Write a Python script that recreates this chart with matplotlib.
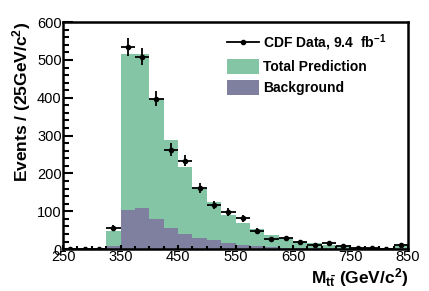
import numpy as np
import matplotlib
matplotlib.use("Agg")
import matplotlib.pyplot as plt
from matplotlib.patches import Patch
from matplotlib.lines import Line2D
from matplotlib.ticker import MultipleLocator, FixedLocator

plt.rcParams['font.family'] = ['Liberation Sans', 'DejaVu Sans']
plt.rcParams['mathtext.fontset'] = 'custom'
plt.rcParams['mathtext.rm'] = 'Liberation Sans:bold'
plt.rcParams['mathtext.it'] = 'Liberation Sans:bold'
plt.rcParams['mathtext.bf'] = 'Liberation Sans:bold'

bin_edges = list(range(250, 851, 25))
total_pred = [0, 0, 0, 49, 517, 515, 398, 289, 216, 161, 124, 91, 69, 53,
              38, 29, 20, 16, 11, 9, 6, 4, 3, 13]
background = [0, 0, 0, 9, 104, 108, 79, 56, 41, 30, 23, 16, 11, 9,
              6, 4, 3, 2, 2, 1, 1, 1, 1, 2]
data_counts = [0, 0, 0, 57, 534, 508, 397, 263, 234, 161, 116, 98, 82, 49,
               27, 29, 19, 10, 17, 7, 4, 4, 1, 12]
x_ticks = [250, 350, 450, 550, 650, 750, 850]

edges = np.array(bin_edges, dtype=float)
centers = 0.5 * (edges[:-1] + edges[1:])
halfw = 0.5 * np.diff(edges)

fig = plt.figure(figsize=(4.29, 2.91), dpi=100)
ax = fig.add_axes([0.147, 0.144, 0.804, 0.78])

green = '#84c5a5'
purple = '#7f7f9f'
ax.stairs(total_pred, edges, fill=True, color=green, linewidth=0)
ax.stairs(background, edges, fill=True, color=purple, linewidth=0)

d = np.array(data_counts, dtype=float)
ax.errorbar(centers, d, yerr=np.sqrt(d), xerr=halfw, fmt='o', color='black',
            markersize=3, elinewidth=1.3, capsize=0, zorder=5)

ax.set_xlim(250, 850)
ax.set_ylim(0, 600)
ax.xaxis.set_major_locator(FixedLocator(x_ticks))
ax.xaxis.set_minor_locator(MultipleLocator(25))
ax.yaxis.set_major_locator(MultipleLocator(100))
ax.yaxis.set_minor_locator(MultipleLocator(20))
ax.tick_params(which='both', direction='in', top=False, right=False, width=1.5,
               labelsize=10.5, pad=1)
ax.tick_params(which='major', length=7)
ax.tick_params(which='minor', length=4)
ax.tick_params(axis='x', which='major', length=3)
ax.tick_params(axis='x', which='minor', length=2)
for s in ax.spines.values():
    s.set_linewidth(1.8)

ax.set_ylabel('Events / (25GeV/c$^{2}$)', fontsize=12.5, fontweight='bold',
              loc='top', labelpad=3)
ax.set_xlabel(r'M$_{t\bar{t}}$ (GeV/c$^{2}$)', fontsize=12.5, fontweight='bold',
              loc='right', labelpad=1)

handles = [
    Line2D([0], [0], color='black', marker='o', markersize=3, linewidth=1.3),
    Patch(facecolor=green, edgecolor='none'),
    Patch(facecolor=purple, edgecolor='none'),
]
labels = ['CDF Data, 9.4  fb$^{-1}$', 'Total Prediction', 'Background']
leg = ax.legend(handles, labels, loc='upper left', bbox_to_anchor=(0.45, 0.99),
                frameon=False, prop={'weight': 'bold', 'size': 10},
                handlelength=2.3, handleheight=1.3, labelspacing=0.4,
                handletextpad=0.3, borderaxespad=0.2)

fig.savefig('out.png', dpi=100)
